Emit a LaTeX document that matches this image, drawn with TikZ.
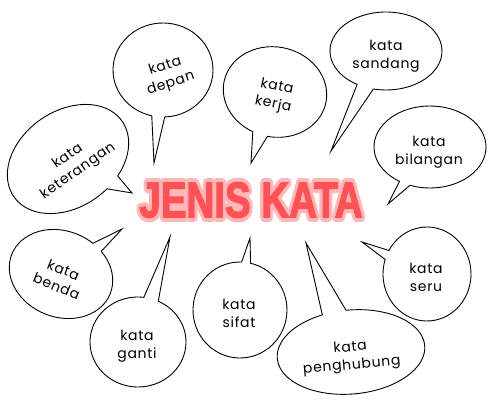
\documentclass[tikz,border=0pt]{standalone}
\usepackage{graphicx}
\usepackage{fontspec}
\newfontfamily\bubblefont[LetterSpace=5]{Poppins}
\newfontfamily\titlefont{Liberation Sans}[BoldFeatures={FakeBold=3}]
\newfontfamily\titleoutfont{Liberation Sans}
\definecolor{titlered}{RGB}{255,82,87}
\definecolor{titlepink}{RGB}{255,184,184}
% #1 cx, #2 cy, #3 rx, #4 ry, #5 rotation, #6 t1, #7 t2, #8 end angle (t1+360), #9 tip
\newcommand\speechbubble[9]{%
  \begin{scope}[shift={(#1,#2)}, rotate=#5]
    \draw[bubble] (#6:#3 and #4) -- (#9) -- (#7:#3 and #4)
      arc[start angle=#7, end angle=#8, x radius=#3, y radius=#4] -- cycle;
  \end{scope}}
\newcommand\titletext[2]{#1\bfseries\fontsize{#2}{50}\selectfont\scalebox{0.77}[1]{JENIS KATA}}
\begin{document}
\begin{tikzpicture}[x=1pt,y=-1pt,
  bubble/.style={draw=black, line width=0.9pt, fill=white, line join=miter},
  lbl/.style={font=\bubblefont\fontsize{14}{18}\selectfont, align=center, inner sep=0pt, text=black},
  ttl/.style={inner sep=0pt, anchor=center}]
\useasboundingbox (0,0) rectangle (490,420);
\fill[white] (0,0) rectangle (490,420);

% tips
\coordinate (tipdepan) at (154,163);
\coordinate (tipket) at (132,193);
\coordinate (tipkerja) at (251,163);
\coordinate (tipsandang) at (331,151);
\coordinate (tipbilangan) at (388,204);
\coordinate (tipbenda) at (122,229);
\coordinate (tipganti) at (170,237);
\coordinate (tipsifat) at (250,238);
\coordinate (tippenghubung) at (306,243);
\coordinate (tipseru) at (362,242);

% bubbles
\speechbubble{163}{70}{50}{47}{0}{88}{103}{448}{tipdepan}
\speechbubble{68}{159}{66}{48}{35}{62}{77}{422}{tipket}
\speechbubble{275}{92}{52}{45}{-12}{88}{105}{448}{tipkerja}
\speechbubble{386}{51}{56}{39}{0}{103}{121}{463}{tipsandang}
\speechbubble{430}{147}{56}{41}{0}{111}{123}{471}{tipbilangan}
\speechbubble{61}{274}{53}{43}{-22}{-70}{-57}{290}{tipbenda}
\speechbubble{138}{342}{48}{45}{0}{-83}{-65}{277}{tipganti}
\speechbubble{240}{310}{47}{48}{0}{-88}{-77}{272}{tipsifat}
\speechbubble{351}{352}{74}{42}{5}{-110}{-91}{250}{tippenghubung}
\speechbubble{427}{274}{44}{47}{0}{198}{210}{558}{tipseru}

% labels
\node[lbl, rotate=18] (ldepan) at (168,75) {kata\\depan};
\node[lbl, rotate=35] (lket) at (73,164) {kata\\keterangan};
\node[lbl, rotate=-12] (lkerja) at (275,96) {kata\\kerja};
\node[lbl] (lsandang) at (386,56) {kata\\sandang};
\node[lbl] (lbilangan) at (429,152) {kata\\bilangan};
\node[lbl, rotate=-22] (lbenda) at (60,278) {kata\\benda};
\node[lbl] (lganti) at (137,346) {kata\\ganti};
\node[lbl] (lsifat) at (239,313) {kata\\sifat};
\node[lbl, rotate=5] (lpenghubung) at (351,357) {kata\\penghubung};
\node[lbl] (lseru) at (426,277) {kata\\seru};

% title with outline
\node[ttl, text=titlepink] (titleout) at (251,200)
  {\special{pdf:literal direct 2 Tr 9.5 w 1 j 1 J}\titletext{\titleoutfont}{50}\special{pdf:literal direct 0 Tr 1 w}};
\node[ttl, text=titlered] (title) at (251,200) {\titletext{\titlefont}{50}};
\end{tikzpicture}
\end{document}
